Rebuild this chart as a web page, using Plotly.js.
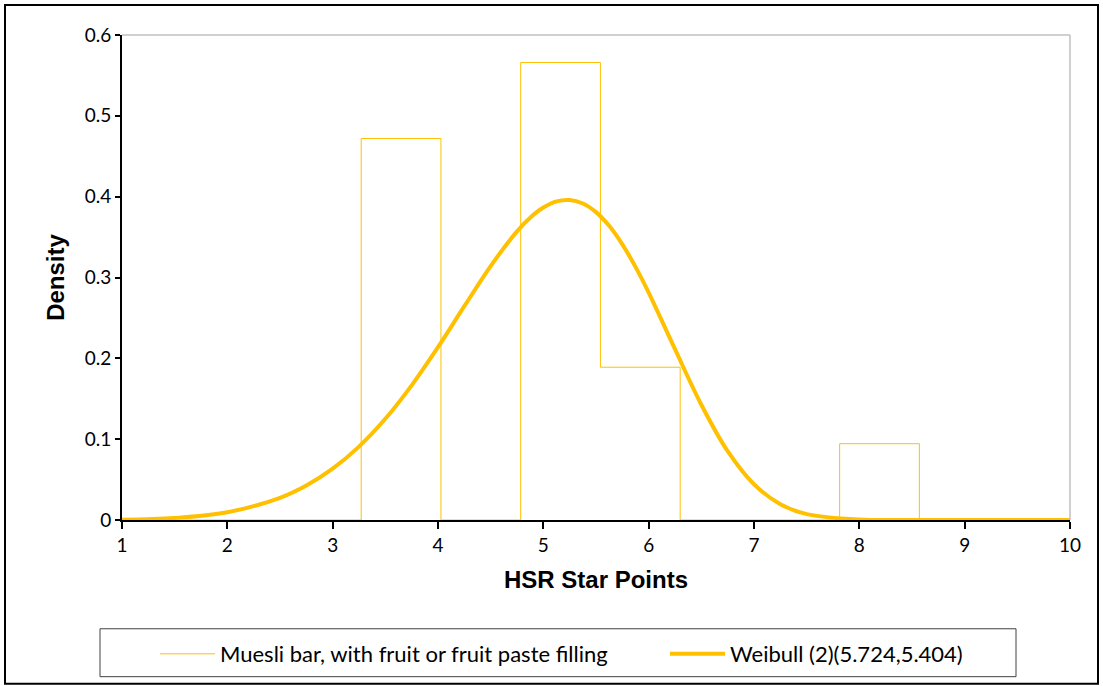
<!DOCTYPE html>
<html>
<head>
<meta charset="utf-8">
<script src="https://cdn.plot.ly/plotly-3.0.1.min.js"></script>
<style>html,body{margin:0;padding:0;background:#fff;}#chart{width:1103px;height:686px;}</style>
</head>
<body>
<div id="chart"></div>
<script>
// Histogram bins (left edges plus final right edge) and densities
var binEdges = [1, 1.757, 2.514, 3.271, 4.028, 4.785, 5.542, 6.299, 7.056, 7.813, 8.57, 9.327, 10];
var binDensity = [0, 0, 0, 0.472, 0, 0.566, 0.189, 0, 0, 0.0944, 0, 0];

// Fitted Weibull curve
var curveX = [1, 1.5, 2, 2.5, 2.75, 3, 3.25, 3.5, 3.75, 4, 4.25, 4.5, 4.75, 4.875, 5, 5.125, 5.25, 5.375, 5.5, 5.625, 5.75, 5.875, 6, 6.25, 6.5, 6.75, 7, 7.25, 7.5, 8, 8.5, 9, 9.5, 10];
var curveY = [0.0004, 0.0025, 0.0096, 0.0275, 0.0427, 0.0635, 0.0908, 0.1252, 0.1666, 0.2138, 0.2645, 0.3141, 0.3571, 0.3740, 0.3865, 0.3941, 0.3959, 0.3916, 0.3809, 0.3639, 0.3410, 0.3131, 0.2813, 0.2113, 0.1426, 0.0851, 0.0442, 0.0196, 0.0073, 0.0005, 0, 0, 0, 0];

var xTicks = [1, 2, 3, 4, 5, 6, 7, 8, 9, 10];
var yTicks = [0, 0.1, 0.2, 0.3, 0.4, 0.5, 0.6];
var yTickText = ["0", "0.1", "0.2", "0.3", "0.4", "0.5", "0.6"];

var histName = "Muesli bar, with fruit or fruit paste filling";
var curveName = "Weibull (2)(5.724,5.404)";

// step outline: one point per bin start plus a closing point
var stepX = binEdges.slice();
var stepY = binDensity.concat([binDensity[binDensity.length - 1]]);

var gold = "#FFC000";
var traces = [
  {x: stepX, y: stepY, type: "scatter", mode: "lines", name: histName, legend: "legend",
   line: {color: gold, width: 1, shape: "hv"}, hoverinfo: "skip"},
  {x: curveX, y: curveY, type: "scatter", mode: "lines", name: curveName, legend: "legend2",
   line: {color: gold, width: 4, shape: "spline", smoothing: 1}}
];

var PW = 948, PH = 486, L = 122, T = 35;
function px(p) { return (p - L) / PW; }
function py(p) { return (T + PH - p) / PH; }

var tickFont = {family: "Lato, 'Open Sans', sans-serif", size: 19, color: "#000"};
var legFont = {family: "Lato, 'Open Sans', sans-serif", size: 22, color: "#000"};
var titleFont = {family: "'Liberation Sans', Arial, sans-serif", size: 24, color: "#000"};
var layout = {
  width: 1103, height: 686,
  margin: {l: 122, r: 33, t: 35, b: 165},
  paper_bgcolor: "#fff", plot_bgcolor: "#fff",
  showlegend: true,
  xaxis: {
    range: [1, 10], tickvals: xTicks, ticktext: xTicks.map(String),
    showgrid: false, zeroline: false, showline: true, linecolor: "#000", linewidth: 2,
    ticks: "outside", ticklen: 7, tickwidth: 2, tickcolor: "#000",
    tickfont: tickFont,
    title: {text: "<b>HSR Star Points</b>", font: titleFont, standoff: 16}
  },
  yaxis: {
    range: [0, 0.6], tickvals: yTicks, ticktext: yTickText,
    showgrid: false, zeroline: false, showline: true, linecolor: "#000", linewidth: 2,
    ticks: "outside", ticklen: 5, tickwidth: 2, tickcolor: "#000",
    tickfont: tickFont,
    title: {text: "<b>Density</b>", font: titleFont, standoff: 13}
  },
  xaxis2: {overlaying: "x", range: [1, 10], tickvals: xTicks, showticklabels: false,
    showgrid: false, zeroline: false, showline: false, ticks: "inside", ticklen: 4, tickwidth: 2, tickcolor: "#000", anchor: "y"},
  yaxis2: {overlaying: "y", range: [0, 0.6], tickvals: yTicks, showticklabels: false,
    showgrid: false, zeroline: false, showline: false, ticks: "inside", ticklen: 4, tickwidth: 2, tickcolor: "#000", anchor: "x", side: "left"},
  legend: {
    orientation: "h", x: px(155), xanchor: "left", y: py(654), yanchor: "middle",
    font: legFont, bgcolor: "rgba(0,0,0,0)", borderwidth: 0, itemwidth: 55
  },
  legend2: {
    orientation: "h", x: px(665), xanchor: "left", y: py(654), yanchor: "middle",
    font: legFont, bgcolor: "rgba(0,0,0,0)", borderwidth: 0, itemwidth: 55
  },
  shapes: [
    {type: "line", xref: "paper", yref: "paper", x0: 0, x1: 1, y0: 1, y1: 1, line: {color: "#c0c0c0", width: 1.5}, layer: "below"},
    {type: "line", xref: "paper", yref: "paper", x0: 1, x1: 1, y0: 0, y1: 1, line: {color: "#c0c0c0", width: 1.5}, layer: "below"},
    {type: "rect", xref: "paper", yref: "paper", x0: px(100), x1: px(1016), y0: py(678), y1: py(630), line: {color: "#404040", width: 1}},
    {type: "rect", xref: "paper", yref: "paper", x0: px(5), x1: px(1098), y0: py(685), y1: py(5), line: {color: "#000", width: 2}}
  ]
};

Plotly.newPlot("chart", traces, layout, {displayModeBar: false, staticPlot: true});
</script>
</body>
</html>
